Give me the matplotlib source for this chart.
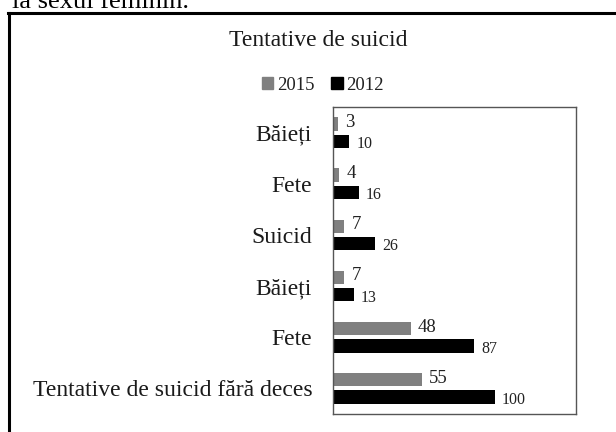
import matplotlib
matplotlib.use("Agg")
import matplotlib.pyplot as plt
import numpy as np
from matplotlib.patches import Rectangle
from matplotlib.lines import Line2D

categories = ["Băieți", "Fete", "Suicid", "Băieți", "Fete", "Tentative de suicid fără deces"]
values_2015 = [3, 4, 7, 7, 48, 55]
values_2012 = [10, 16, 26, 13, 87, 100]
series_names = ["2015", "2012"]

plt.rcParams['font.family'] = ['Liberation Serif', 'DejaVu Serif']

W, H = 616, 432
fig = plt.figure(figsize=(W / 100, H / 100), dpi=100)

# axes in pixel coords: left 333, right 576, top 107, bottom 414
ax = fig.add_axes([333 / W, 1 - 414 / H, (576 - 333) / W, (414 - 107) / H])

y = np.arange(len(categories))
h = 0.26
off = 0.17
b1 = ax.barh(y - off, values_2015, height=h, color="#808080", label=series_names[0])
b2 = ax.barh(y + off, values_2012, height=h, color="#000000", label=series_names[1])
ax.set_xlim(0, 150)
ax.set_ylim(len(categories) - 0.5, -0.5)
ax.set_yticks(y)
ax.set_yticklabels(categories, fontsize=17, color="#1a1a1a")
ax.tick_params(axis='y', length=0, pad=15)
ax.set_xticks([])
for s in ax.spines.values():
    s.set_color("#555555")
    s.set_linewidth(1.0)

for rect, v in zip(b1, values_2015):
    ax.annotate(str(v), (rect.get_width(), rect.get_y() + rect.get_height() / 2),
                xytext=(5, 1), textcoords="offset points", va="center", ha="left",
                fontsize=13.5, color="#222222")
for rect, v in zip(b2, values_2012):
    ax.annotate(str(v), (rect.get_width(), rect.get_y() + rect.get_height() / 2),
                xytext=(5, -2), textcoords="offset points", va="center", ha="left",
                fontsize=11.5, color="#222222")

# title and legend
fig.text(318 / W, 1 - 40 / H, "Tentative de suicid", ha="center", va="center", fontsize=17, color="#1a1a1a")
handles = [Rectangle((0, 0), 1, 1, color="#808080"), Rectangle((0, 0), 1, 1, color="#000000")]
fig.legend(handles, series_names, loc="center", bbox_to_anchor=(323 / W, 1 - 85 / H),
           ncol=2, frameon=False, fontsize=13.5, handlelength=0.6, handleheight=0.6,
           handletextpad=0.2, columnspacing=0.9, labelcolor="#222222")

# outer border (left and top edges visible)
fig.add_artist(Line2D([9 / W, 9 / W], [0, 1 - 13 / H], transform=fig.transFigure, color="black", lw=2.2))
fig.add_artist(Line2D([8 / W, 1], [1 - 13 / H, 1 - 13 / H], transform=fig.transFigure, color="black", lw=2.2))

# partially visible text from the page above
fig.text(12 / W, 1 - 8 / H, "la sexul feminin.", ha="left", va="baseline", fontsize=19, color="black")

fig.savefig("out.png", dpi=100)
